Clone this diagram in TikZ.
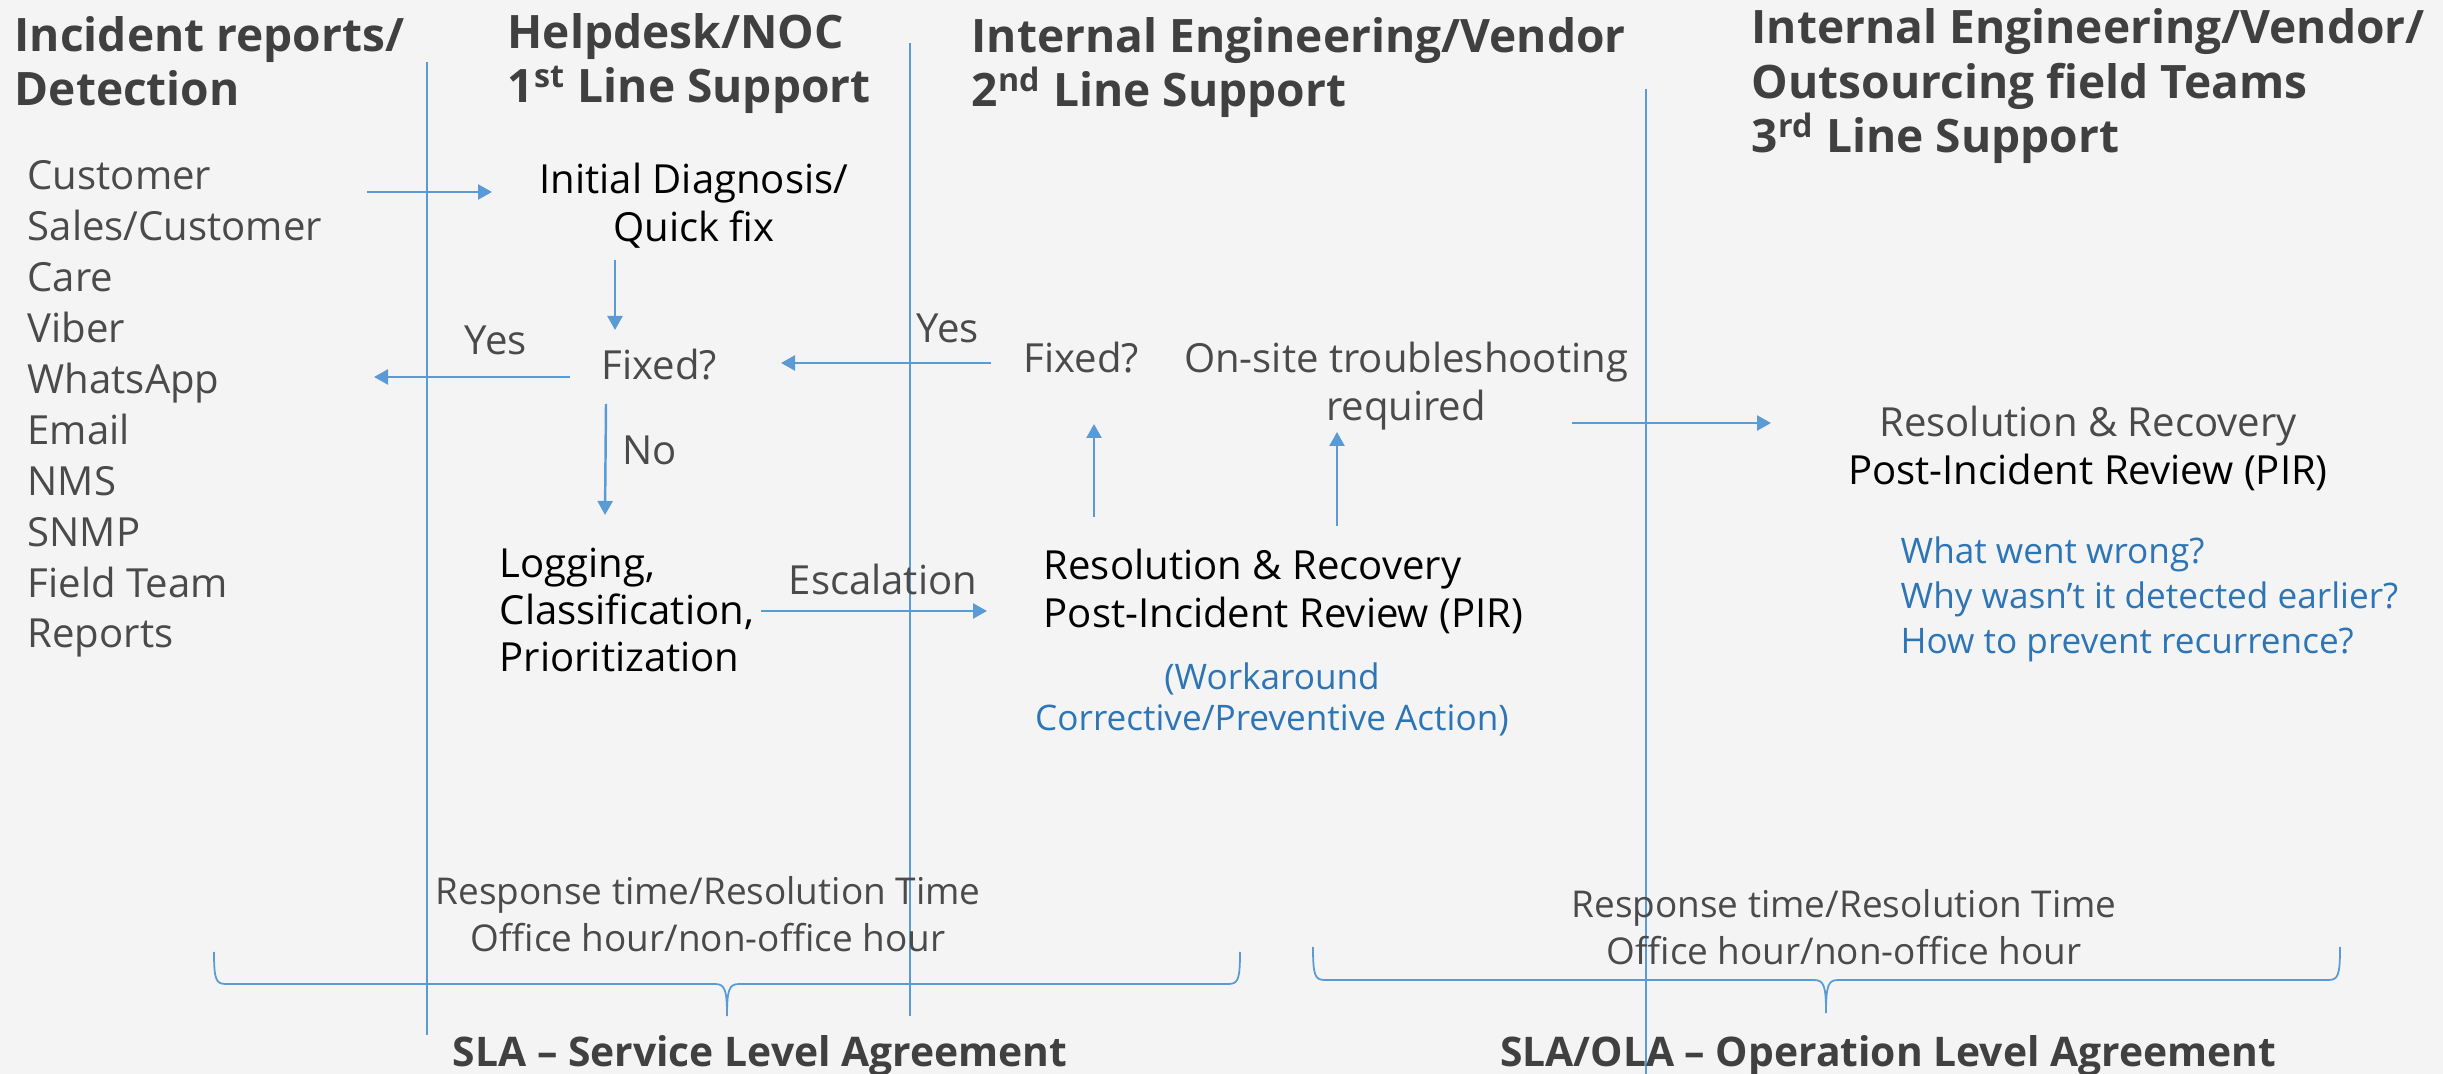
\documentclass[tikz,border=0pt]{standalone}
\usepackage{fontspec}
\setmainfont{Open Sans}
\usetikzlibrary{arrows.meta,calc}
\definecolor{bg}{HTML}{F4F4F4}
\definecolor{hdrgray}{HTML}{404040}
\definecolor{txtgray}{HTML}{4A4A4A}
\definecolor{lineblue}{HTML}{5B9BD5}
\definecolor{txtblue}{HTML}{2E75B6}
\tikzset{
  hdr/.style={font=\bfseries\fontsize{13.1pt}{15.6pt}\selectfont, text=hdrgray, align=left, inner sep=0pt, anchor=base west},
  body/.style={font=\fontsize{11.4pt}{14pt}\selectfont, text=txtgray, inner sep=0pt},
  bodyblk/.style={body, text=black},
  bluetxt/.style={font=\fontsize{10pt}{12.8pt}\selectfont, text=txtblue, inner sep=0pt},
  resp/.style={font=\fontsize{10.5pt}{13.4pt}\selectfont, text=txtgray, inner sep=0pt, align=center, anchor=base},
  foot/.style={font=\bfseries\fontsize{11.6pt}{14pt}\selectfont, text=hdrgray, inner sep=0pt, anchor=base},
  sep/.style={draw=lineblue, line width=0.33pt},
  arr/.style={draw=lineblue, line width=0.7pt, -{Triangle[length=0.14cm,width=0.15cm]}},
  brace/.style={draw=lineblue, line width=0.5pt},
}
\begin{document}
\begin{tikzpicture}[x=0.01cm,y=-0.01cm]
\fill[bg] (0,0) rectangle (2443,1074);
\useasboundingbox (0,0) rectangle (2443,1074);

% separators
\draw[sep] (427,62) -- (427,1035);
\draw[sep] (910,43) -- (910,1016);
\draw[sep] (1646,89) -- (1646,1074);

% headers (anchor base = last line baseline)
\node[hdr] (h1) at (14,106) {Incident reports/\\Detection};
\node[hdr] (h2) at (507,103) {Helpdesk/NOC\\1\textsuperscript{st} Line Support};
\node[hdr] (h3) at (971,107) {Internal Engineering/Vendor\\2\textsuperscript{nd} Line Support};
\node[hdr] (h4) at (1751,153) {Internal Engineering/Vendor/\\Outsourcing field Teams\\3\textsuperscript{rd} Line Support};

% sources
\node[body, align=left, anchor=base west, font=\fontsize{11.4pt}{14.5pt}\selectfont] (src) at (27,648)
  {Customer\\Sales/Customer\\Care\\Viber\\WhatsApp\\Email\\NMS\\SNMP\\Field Team\\Reports};

% 1st line
\node[bodyblk, align=center, anchor=base, font=\fontsize{11.4pt}{13.9pt}\selectfont] (diag) at (694,242) {Initial Diagnosis/\\Quick fix};
\node[body, anchor=base west] (yes1) at (464,355) {Yes};
\node[body, anchor=base west] (fix1) at (601,380) {Fixed?};
\node[body, anchor=base west] (no) at (622,465) {No};
\node[bodyblk, align=left, anchor=base west, font=\fontsize{11.4pt}{13.5pt}\selectfont] (log) at (499,672) {Logging,\\Classification,\\Prioritization};
\node[body, anchor=base west] (esc) at (788,595) {Escalation};

% 2nd line
\node[bodyblk, align=left, anchor=base west, font=\fontsize{11.4pt}{13.9pt}\selectfont] (res1) at (1043,628) {Resolution \& Recovery\\Post-Incident Review (PIR)};
\node[bluetxt, align=center, anchor=base, font=\fontsize{10pt}{11.9pt}\selectfont] (work) at (1272,731) {(Workaround\\Corrective/Preventive Action)};
\node[body, anchor=base west] (yes2) at (916,343) {Yes};
\node[body, anchor=base west] (fix2) at (1023,373) {Fixed?};
\node[body, align=center, anchor=base, font=\fontsize{11.4pt}{13.9pt}\selectfont] (onsite) at (1406,421) {On-site troubleshooting\\required};

% 3rd line
\node[body, align=center, anchor=base, font=\fontsize{11.4pt}{13.7pt}\selectfont] (res2) at (2088,485) {\textcolor{txtgray}{Resolution \& Recovery}\\\textcolor{black}{Post-Incident Review (PIR)}};
\node[bluetxt, align=left, anchor=base west] (why) at (1900,654) {What went wrong?\\Why wasn’t it detected earlier?\\How to prevent recurrence?};

% SLA texts
\node[resp] (rt1) at (708,952) {Response time/Resolution Time\\Office hour/non-office hour};
\node[resp] (rt2) at (1844,965) {Response time/Resolution Time\\Office hour/non-office hour};
\node[foot] (sla) at (760,1066) {SLA – Service Level Agreement};
\node[foot] (ola) at (1888,1066) {SLA/OLA – Operation Level Agreement};

% braces
\draw[brace] (214,952) .. controls (214,980) and (216,984) .. (226,984) -- (715,984)
  .. controls (725,984) and (727,990) .. (727,1016)
  .. controls (727,990) and (729,984) .. (739,984) -- (1228,984)
  .. controls (1238,984) and (1240,980) .. (1240,952);
\draw[brace] (1313,947) .. controls (1313,976) and (1315,980) .. (1325,980) -- (1814,980)
  .. controls (1824,980) and (1826,986) .. (1826,1013)
  .. controls (1826,986) and (1828,980) .. (1838,980) -- (2328,980)
  .. controls (2338,980) and (2340,976) .. (2340,947);

% connectors
\draw[arr] ($(src.base west)+(340,-456)$) -- ($(diag.base)+(-202,-50)$);
\draw[arr] ($(diag.base)+(-79,18)$) -- ($(fix1.base west)+(14,-50)$);
\draw[arr] ($(fix1.base west)+(-31,-3)$) -- ($(src.base west)+(347,-271)$);
\draw[arr] ($(fix1.base west)+(5,24)$) -- ($(log.base west)+(106,-157)$);
\draw[arr] ($(log.base west)+(262,-61)$) -- ($(res1.base west)+(-56,-17)$);
\draw[arr] ($(fix2.base west)+(-32,-10)$) -- ($(fix1.base west)+(180,-17)$);
\draw[arr] ($(res1.base west)+(51,-111)$) -- ($(fix2.base west)+(71,51)$);
\draw[arr] ($(res1.base west)+(294,-102)$) -- ($(onsite.base)+(-69,11)$);
\draw[arr] ($(onsite.base)+(166,2)$) -- ($(res2.base)+(-317,-62)$);
\end{tikzpicture}
\end{document}
